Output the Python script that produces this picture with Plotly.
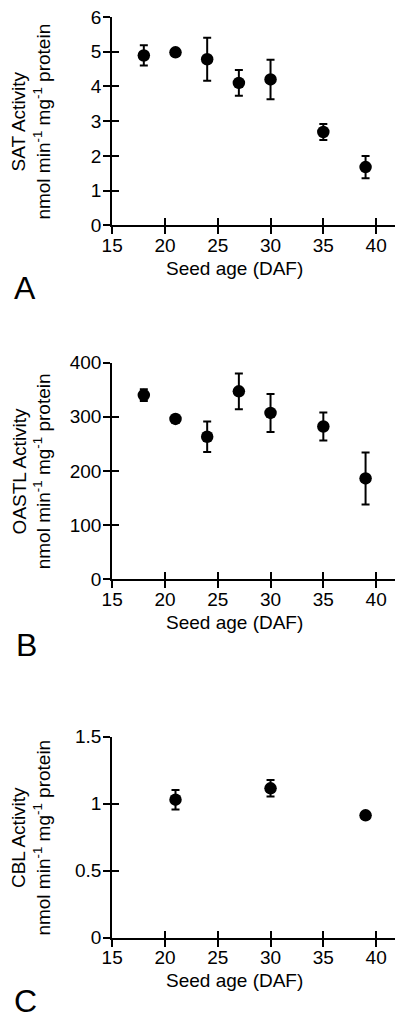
import plotly.graph_objects as go

# ---- data ----
days_ab = [18, 21, 24, 27, 30, 35, 39]
sat_activity = [4.89, 4.98, 4.78, 4.10, 4.20, 2.69, 1.68]
sat_error = [0.29, 0, 0.62, 0.37, 0.57, 0.23, 0.32]

oastl_activity = [340, 296, 263, 347, 307, 282, 186]
oastl_error = [11, 0, 28, 33, 35, 26, 48]

days_c = [21, 30, 39]
cbl_activity = [1.03, 1.115, 0.913]
cbl_error = [0.073, 0.062, 0]

x_ticks = [15, 20, 25, 30, 35, 40]
x_range = [15, 41.8]
sat_ticks = [0, 1, 2, 3, 4, 5, 6]
oastl_ticks = [0, 100, 200, 300, 400]
cbl_ticks = [0, 0.5, 1, 1.5]
cbl_ticktext = ["0", "0.5", "1", "1.5"]

x_title = "Seed age (DAF)"
unit = "nmol min<sup>-1</sup> mg<sup>-1</sup> protein"
panel_titles = ["SAT Activity", "OASTL Activity", "CBL Activity"]
panel_letters = ["A", "B", "C"]

FONT = "Liberation Sans, Arial, Helvetica, sans-serif"
W, H = 400, 1024

# pixel layout (left, right of plot; top, bottom of each panel)
x_left, x_right = 104, 395
panels_px = [(7, 220), (360, 581), (742, 947)]

fig = go.Figure()

xdom = [x_left / W, x_right / W]

datasets = [
    (days_ab, sat_activity, sat_error, [0, 6], sat_ticks, None),
    (days_ab, oastl_activity, oastl_error, [0, 400], oastl_ticks, None),
    (days_c, cbl_activity, cbl_error, [0, 1.5], cbl_ticks, cbl_ticktext),
]

layout = {}
annotations = []
for i, (xs, ys, es, yr, yt, ytt) in enumerate(datasets):
    top, bot = panels_px[i]
    ydom = [1 - bot / H, 1 - top / H]
    n = i + 1
    no = i + 4  # overlay axis index for inner tick halves
    xa = f"x{n if n > 1 else ''}"
    ya = f"y{n if n > 1 else ''}"

    fig.add_trace(go.Scatter(
        x=xs, y=ys, mode="markers",
        marker=dict(color="black", size=12.5, symbol="circle"),
        error_y=dict(type="data", array=es, visible=True, color="black",
                     thickness=2, width=4),
        xaxis=xa, yaxis=ya, showlegend=False, hoverinfo="x+y",
    ))
    # empty trace to anchor the overlay axes (inner tick halves)
    fig.add_trace(go.Scatter(x=[], y=[], xaxis=f"x{no}", yaxis=f"y{no}",
                             showlegend=False, hoverinfo="skip"))

    common_x = dict(domain=xdom, range=x_range, tickvals=x_ticks,
                    showgrid=False, zeroline=False, fixedrange=True)
    common_y = dict(domain=ydom, range=yr, tickvals=yt,
                    showgrid=False, zeroline=False, fixedrange=True)
    if ytt:
        common_y["ticktext"] = ytt

    layout[f"xaxis{n if n > 1 else ''}"] = dict(
        **common_x, anchor=ya, showline=True, linecolor="black", linewidth=2,
        ticks="outside", ticklen=7, tickwidth=2, tickcolor="black",
        ticklabelstandoff=-5,
        tickfont=dict(family=FONT, size=19, color="black"),
    )
    layout[f"yaxis{n if n > 1 else ''}"] = dict(
        **common_y, anchor=xa, showline=True, linecolor="black", linewidth=2,
        ticks="outside", ticklen=7, tickwidth=2, tickcolor="black",
        ticklabelstandoff=-2,
        tickfont=dict(family=FONT, size=19, color="black"),
    )
    layout[f"xaxis{no}"] = dict(
        **common_x, anchor=f"y{no}", overlaying=xa, showline=False,
        ticks="inside", ticklen=7, tickwidth=2, tickcolor="black",
        showticklabels=False,
    )
    layout[f"yaxis{no}"] = dict(
        **common_y, anchor=f"x{no}", overlaying=ya, showline=False,
        ticks="inside", ticklen=7, tickwidth=2, tickcolor="black",
        showticklabels=False,
    )

    # y-axis title (two lines, rotated)
    annotations.append(dict(
        text=f"{panel_titles[i]}<br>{unit}", textangle=-90,
        x=21 / W, y=1 - ((top + bot) / 2) / H, xref="paper", yref="paper",
        xanchor="center", yanchor="middle", showarrow=False,
        font=dict(family=FONT, size=19, color="black"),
    ))
    # x-axis title
    annotations.append(dict(
        text=x_title, x=230 / W, y=1 - (bot + 44) / H,
        xref="paper", yref="paper", xanchor="center", yanchor="middle",
        showarrow=False, font=dict(family=FONT, size=19, color="black"),
    ))

letter_y = [284, 648, 1012]
letter_x = [14, 16, 15]
for i, L in enumerate(panel_letters):
    annotations.append(dict(
        text=L, x=letter_x[i] / W, y=1 - letter_y[i] / H,
        xref="paper", yref="paper", xanchor="center", yanchor="middle",
        showarrow=False, font=dict(family=FONT, size=32, color="black"),
    ))

fig.update_layout(
    width=W, height=H,
    margin=dict(l=0, r=0, t=0, b=0),
    paper_bgcolor="white", plot_bgcolor="white",
    annotations=annotations,
    **layout,
)

fig.write_html("out.html", config={"displayModeBar": False},
               post_script="document.body.style.margin='0px';")
